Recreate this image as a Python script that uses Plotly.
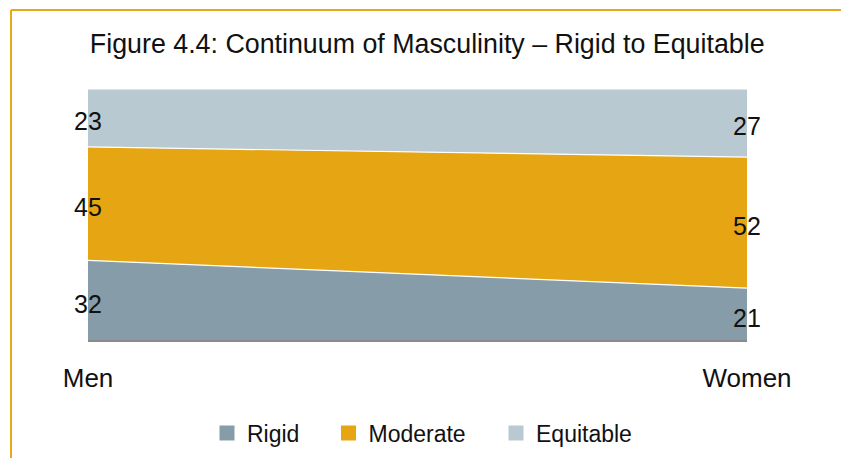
import plotly.graph_objects as go

categories = ["Men", "Women"]
series_names = ["Rigid", "Moderate", "Equitable"]
rigid = [32, 21]
moderate = [45, 52]
equitable = [23, 27]
colors = ["#869DA9", "#E6A614", "#B9C9D1"]

values = [rigid, moderate, equitable]
xs = list(range(len(categories)))

L, R, T, B = 88, 94, 89, 117
W, H = 841, 458
pw, ph = W - L - R, H - T - B

def px_x(p):
    return (p - L) / pw

def px_y(p):
    return (H - B - p) / ph

legend_px = [207, 328.5, 496]
legend_names = ["legend", "legend2", "legend3"]

fig = go.Figure()
cum = [0] * len(categories)
for k, (name, vals, col) in enumerate(zip(series_names, values, colors)):
    fig.add_trace(go.Scatter(
        x=xs, y=vals, name=name, stackgroup="one", mode="lines",
        line=dict(color="white", width=1.2), fillcolor=col,
        showlegend=False, hoverinfo="skip"))
    for i, v in enumerate(vals):
        fig.add_annotation(x=xs[i], y=cum[i] + v / 2, text=str(v), showarrow=False,
                           xanchor="center", yanchor="middle", yshift=-3,
                           font=dict(size=25, color="#111111"))
    cum = [c + v for c, v in zip(cum, vals)]
    fig.add_trace(go.Scatter(
        x=[None], y=[None], name=name, mode="markers", legend=legend_names[k],
        marker=dict(symbol="square", size=15, color=col), showlegend=True))

fig.add_shape(type="line", xref="paper", yref="paper", x0=px_x(11), x1=px_x(W + 5),
              y0=px_y(10), y1=px_y(10), line=dict(color="#E9A817", width=2))
fig.add_shape(type="line", xref="paper", yref="paper", x0=px_x(11), x1=px_x(11),
              y0=px_y(10), y1=px_y(H + 5), line=dict(color="#E9A817", width=2))
fig.add_shape(type="line", xref="paper", yref="paper", x0=0, x1=1, y0=0, y1=0,
              line=dict(color="#8a8a8a", width=2))

leg_common = dict(orientation="h", xanchor="left", yanchor="middle",
                  y=px_y(433), font=dict(size=23, color="#111111"),
                  bgcolor="rgba(0,0,0,0)")
layout_legends = {}
for nm, p in zip(legend_names, legend_px):
    layout_legends[nm] = dict(x=px_x(p), **leg_common)

fig.update_layout(
    width=W, height=H,
    margin=dict(l=L, r=R, t=T, b=B, autoexpand=False),
    paper_bgcolor="white", plot_bgcolor="white",
    font=dict(family="Liberation Sans, Arial, sans-serif", color="#111111"),
    title=dict(text="Figure 4.4: Continuum of Masculinity \u2013 Rigid to Equitable",
               x=0.508, xanchor="center", y=0.904, yanchor="middle",
               font=dict(size=26.8, color="#111111")),
    xaxis=dict(range=[0, 1], tickvals=xs, ticktext=categories, showgrid=False,
               zeroline=False, showline=False, ticks="", tickfont=dict(size=26),
               ticklabelstandoff=19),
    yaxis=dict(range=[0, 100], visible=False, showgrid=False),
    showlegend=True,
    **layout_legends,
)

fig.write_html("out.html", config={"displayModeBar": False},
               post_script="document.body.style.margin='0';")
